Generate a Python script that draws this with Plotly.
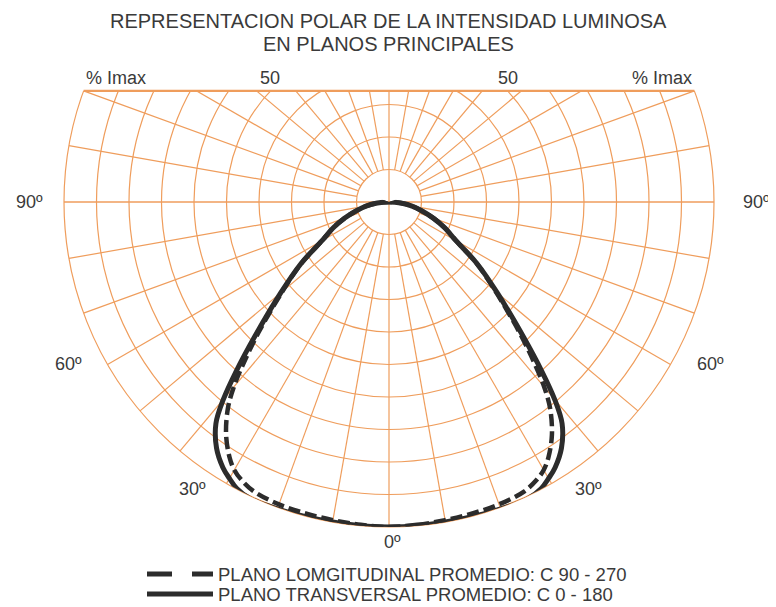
import numpy as np
import plotly.graph_objects as go

# ---------------- data ----------------
title_lines = ["REPRESENTACION POLAR DE LA INTENSIDAD LUMINOSA", "EN PLANOS PRINCIPALES"]
legend_labels = ["PLANO LOMGITUDINAL PROMEDIO: C 90 - 270",
                 "PLANO TRANSVERSAL PROMEDIO: C 0 - 180"]

# gamma angle from nadir (deg), intensity in % of Imax
angles = [0, 5, 10, 15, 20, 25, 28, 30, 32, 35, 38, 40, 42, 45, 50, 55, 60, 65, 70, 75, 80, 85, 90]
transversal = [100, 100, 100, 100.2, 100.5, 100.8, 99.8, 98.2, 96.4, 92.5, 86.5, 79.3, 70.5,
               58.3, 43.5, 33.1, 23.8, 19.0, 14.5, 10.4, 7.2, 3.6, 0]
longitudinal = [100, 99.7, 99.4, 99.2, 99.0, 98.3, 96.8, 95.2, 92.6, 87.4, 80.5, 74.3, 67.0,
                56.8, 42.8, 32.9, 23.8, 19.0, 14.5, 10.4, 7.2, 3.6, 0]

angle_label_text = ["90º", "60º", "30º", "0º", "30º", "60º", "90º"]
ring_values = [10, 20, 30, 40, 50, 60, 70, 80, 90, 100]
top_labels = ["% Imax", "50", "50", "% Imax"]

# ---------------- geometry / style ----------------
W, H = 776, 607
OFF = 8                              # page body margin of the html page
CX, CY, R = 389 - OFF, 202 - OFF, 325  # centre / radius of the polar (figure px)
TOP = np.sin(np.radians(20))         # sector [160, 380] -> top at sin(20°)
ORANGE = "#ef9d5c"
INK = "#2c2c2c"
TXT = "#3a3a3a"
FONT = "Liberation Sans, Arial, sans-serif"

dom_x = [(CX - R) / W, (CX + R) / W]
dom_y = [(H - (CY + R)) / H, (H - (CY - R * TOP)) / H]


def px(u):  # u in % of radius (x) -> paper
    return (CX + u / 100 * R) / W


def py(v):  # v in % of radius (y, up positive) -> paper
    return (H - (CY - v / 100 * R)) / H


def sx(x):  # screen pixel -> paper
    return (x - OFF) / W


def sy(y):
    return 1 - (y - OFF) / H


def loop(a, r):
    # run from nadir up one side, through the centre, and back down the other side
    th = a + [-x for x in a[::-1][1:]]
    rr = r + r[::-1][1:]
    return th, rr


fig = go.Figure()

th_l, r_l = loop(angles, longitudinal)
th_t, r_t = loop(angles, transversal)

fig.add_trace(go.Scatterpolar(theta=th_l, r=r_l, mode="lines", name=legend_labels[0],
                              line=dict(color=INK, width=4.5, dash="12px,5px", shape="spline"),
                              hoverinfo="skip"))
fig.add_trace(go.Scatterpolar(theta=th_t, r=r_t, mode="lines", name=legend_labels[1],
                              line=dict(color=INK, width=5, shape="spline"),
                              hoverinfo="skip"))

shapes = []
for k in ring_values:
    shapes.append(dict(type="circle", xref="paper", yref="paper",
                       x0=px(-k), x1=px(k), y0=py(-k), y1=py(k),
                       line=dict(color=ORANGE, width=1.2), layer="below"))
for a in range(0, 360, 10):
    if a % 90 == 0:
        continue
    c, s = np.cos(np.radians(a)), np.sin(np.radians(a))
    shapes.append(dict(type="line", xref="paper", yref="paper",
                       x0=px(10 * c), y0=py(10 * s), x1=px(100 * c), y1=py(100 * s),
                       line=dict(color=ORANGE, width=1.2), layer="below"))
shapes.append(dict(type="line", xref="paper", yref="paper", x0=px(-100), x1=px(100),
                   y0=py(0), y1=py(0), line=dict(color=ORANGE, width=1.6), layer="below"))
shapes.append(dict(type="line", xref="paper", yref="paper", x0=px(0), x1=px(0),
                   y0=py(-100), y1=py(100), line=dict(color=ORANGE, width=1.2), layer="below"))
shapes.append(dict(type="rect", xref="paper", yref="paper", x0=0, x1=1,
                   y0=py(TOP * 100), y1=1, fillcolor="white", line=dict(width=0), layer="below"))
corner = np.cos(np.radians(20)) * 100
shapes.append(dict(type="line", xref="paper", yref="paper", x0=px(-corner), x1=px(corner),
                   y0=py(TOP * 100), y1=py(TOP * 100), line=dict(color=ORANGE, width=2.2),
                   layer="below"))

# legend samples
LX0, LX1 = 147, 213
LY = [574, 594]
shapes.append(dict(type="line", xref="paper", yref="paper", x0=sx(LX0), x1=sx(LX1),
                   y0=sy(LY[0]), y1=sy(LY[0]),
                   line=dict(color=INK, width=5, dash="25px,20px")))
shapes.append(dict(type="line", xref="paper", yref="paper", x0=sx(LX0), x1=sx(LX1),
                   y0=sy(LY[1]), y1=sy(LY[1]),
                   line=dict(color=INK, width=5)))

annotations = []
for txt, ypx in zip(title_lines, [21, 44]):
    annotations.append(dict(text=txt, xref="paper", yref="paper", x=sx(388), y=sy(ypx),
                            xanchor="center", yanchor="middle", showarrow=False,
                            font=dict(family=FONT, size=20, color=TXT)))
r50 = np.sqrt(50 ** 2 - (TOP * 100) ** 2)
for txt, u, anc in zip(top_labels, [-corner, -r50, r50, corner], ["left", "center", "center", "right"]):
    annotations.append(dict(text=txt, xref="paper", yref="paper", x=px(u), y=py(TOP * 100),
                            xanchor=anc, yanchor="bottom", yshift=1, showarrow=False,
                            font=dict(family=FONT, size=18, color=TXT)))
# angle labels around the outer ring (screen positions)
label_pos = [(29, 202), (68, 364), (192, 489), (392, 542), (588, 489), (710, 364), (756, 202)]
for txt, (x, y) in zip(angle_label_text, label_pos):
    annotations.append(dict(text=txt, xref="paper", yref="paper", x=sx(x), y=sy(y),
                            xanchor="center", yanchor="middle", showarrow=False,
                            font=dict(family=FONT, size=18, color=TXT)))
for txt, ypx in zip(legend_labels, LY):
    annotations.append(dict(text=txt, xref="paper", yref="paper", x=sx(216), y=sy(ypx),
                            xanchor="left", yanchor="middle", showarrow=False,
                            font=dict(family=FONT, size=18.5, color=TXT)))

fig.update_layout(
    width=W, height=H, margin=dict(l=0, r=0, t=0, b=0),
    paper_bgcolor="white", showlegend=False,
    polar=dict(
        domain=dict(x=dom_x, y=dom_y),
        sector=[160, 380],
        bgcolor="rgba(0,0,0,0)",
        radialaxis=dict(range=[0, 100], visible=False, showgrid=False),
        angularaxis=dict(rotation=-90, direction="counterclockwise",
                         showgrid=False, showline=False, ticks="", showticklabels=False),
    ),
    shapes=shapes, annotations=annotations,
)

fig.write_html("out.html")
